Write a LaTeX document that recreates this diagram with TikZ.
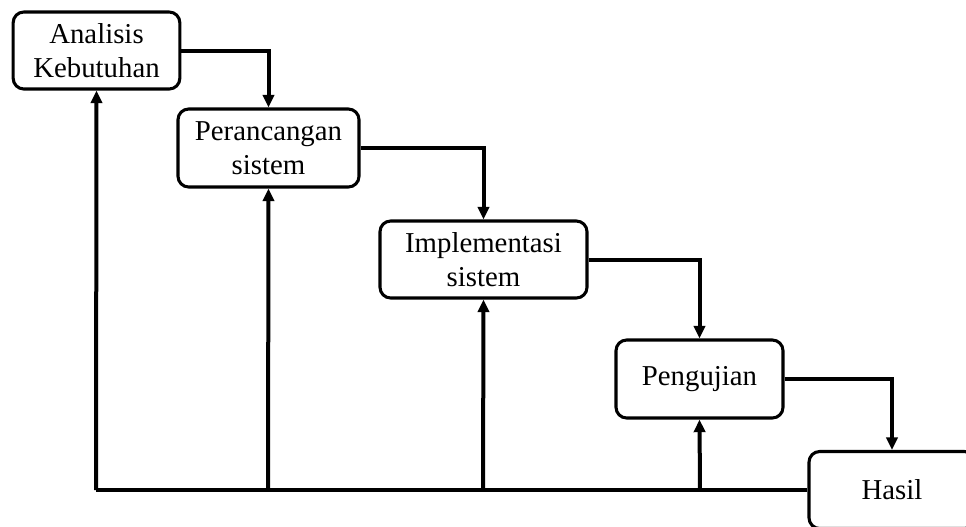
\documentclass[tikz,border=0pt]{standalone}
\usepackage{fontspec}
\setmainfont{Liberation Serif}
\usetikzlibrary{arrows.meta}
\tikzset{
  tahap/.style={draw,line width=2.3pt,rounded corners=8pt,align=center,
    font=\fontsize{21.6}{25.5}\selectfont,inner sep=0pt},
  alur/.style={line width=3pt,-{Triangle[length=9.5pt,width=8.5pt]}}
}
\begin{document}
\begin{tikzpicture}[x=0.75pt,y=-0.75pt]
\useasboundingbox (0,0) rectangle (966,526);
\node[tahap,minimum width=125pt,minimum height=57.75pt] (A) at (96.5,50.5) {Analisis\\Kebutuhan};
\node[tahap,minimum width=135.75pt,minimum height=58.5pt] (P) at (268.5,148) {Perancangan\\sistem};
\node[tahap,minimum width=155.25pt,minimum height=57.75pt] (I) at (483.5,259.5) {Implementasi\\sistem};
\node[tahap,minimum width=125.25pt,minimum height=58.5pt] (G) at (699.5,379) {Pengujian};
\node[tahap,minimum width=124.5pt,minimum height=57.75pt] (H) at (892,490) {Hasil};
\coordinate (B0) at (96,490);
\coordinate (B1) at (268,490);
\coordinate (B2) at (483,490);
\coordinate (B3) at (700,490);
\draw[alur] (A.east) -| (P.north);
\draw[alur] (P.east) -| (I.north);
\draw[alur] (I.east) -| (G.north);
\draw[alur] (G.east) -| (H.north);
\draw[line width=3pt] (H.west) -- (B0);
\draw[alur] (B0) -- (A.south);
\draw[alur] (B1) -- (P.south);
\draw[alur] (B2) -- (I.south);
\draw[alur] (B3) -- (G.south);
\end{tikzpicture}
\end{document}
